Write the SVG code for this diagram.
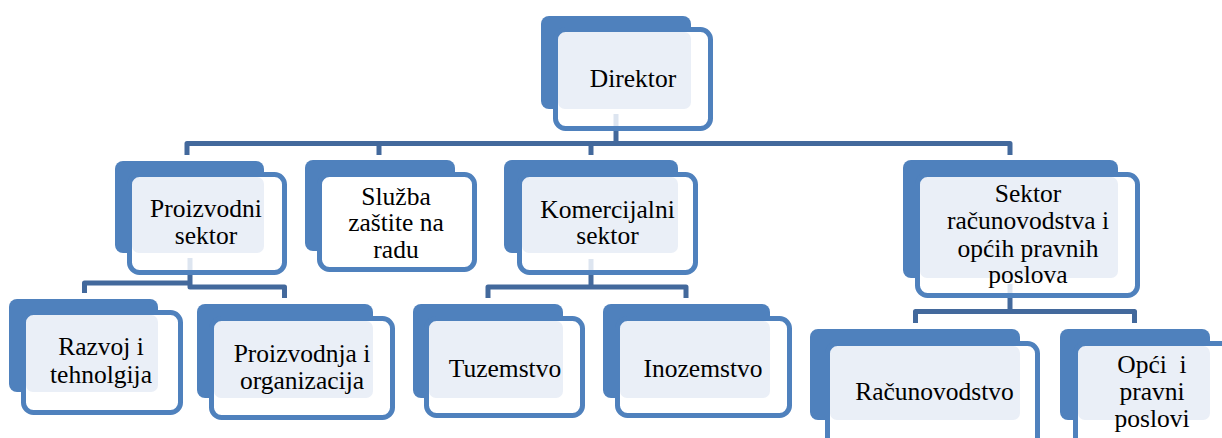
<svg xmlns="http://www.w3.org/2000/svg" width="1222" height="438" viewBox="0 0 1222 438">
<style>
.back{fill:#4F81BD}
.frontbg{fill:#FFFFFF}
.light{fill:#EAEFF7}
.front{fill:none;stroke:#4F81BD;stroke-width:5}
.conn{fill:none;stroke:#43699C;stroke-width:5;stroke-linejoin:round}
.stub{stroke:#DDE5F0;stroke-width:5}
.t{font-family:'Liberation Serif',serif;font-size:25.5px;fill:#000;text-anchor:middle}
</style>
<rect width="1222" height="438" fill="#FFFFFF"/>
<g id="connectors">
<path class="conn" d="M187,155 V143.5 H1010 V155"/>
<path class="conn" d="M616,131 V143.5"/>
<path class="conn" d="M379,143.5 V155"/>
<path class="conn" d="M591,143.5 V155"/>
<path class="conn" d="M190,275 V287 H284.5 V298"/>
<path class="conn" d="M190,283 H84.5 V293"/>
<path class="conn" d="M591,275 V287"/>
<path class="conn" d="M488,298 V287 H686 V298"/>
<path class="conn" d="M1010,298 V311.5"/>
<path class="conn" d="M915.5,323 V311.5 H1134.5 V323"/>
</g>
<g id="node-direktor">
<rect class="back" x="541" y="16" width="150" height="93" rx="8"/>
<rect class="frontbg" x="555.5" y="29.5" width="155" height="99" rx="10"/>
<rect class="light" x="558" y="32" width="133" height="77" rx="7"/>
<line class="stub" x1="616" y1="114" x2="616" y2="126"/>
<rect class="front" x="555.5" y="29.5" width="155" height="99" rx="10"/>
<text class="t" x="633" y="87">Direktor</text>
</g>
<g id="node-proizvodni">
<rect class="back" x="115" y="161" width="149" height="92" rx="8"/>
<rect class="frontbg" x="129.5" y="174.5" width="155" height="98" rx="10"/>
<rect class="light" x="132" y="177" width="132" height="76" rx="7"/>
<line class="stub" x1="190" y1="258" x2="190" y2="270"/>
<rect class="front" x="129.5" y="174.5" width="155" height="98" rx="10"/>
<text class="t" x="206" y="217">Proizvodni</text>
<text class="t" x="206" y="244">sektor</text>
</g>
<g id="node-sluzba">
<rect class="back" x="305" y="160" width="150" height="91" rx="8"/>
<rect class="frontbg" x="319.5" y="174.5" width="155" height="95" rx="10"/>
<rect class="front" x="319.5" y="174.5" width="155" height="95" rx="10"/>
<text class="t" x="396" y="205">Služba</text>
<text class="t" x="396" y="231">zaštite na</text>
<text class="t" x="396" y="258">radu</text>
</g>
<g id="node-komercijalni">
<rect class="back" x="504" y="160" width="174" height="93" rx="8"/>
<rect class="frontbg" x="519.5" y="174.5" width="176" height="98" rx="10"/>
<rect class="light" x="522" y="177" width="156" height="76" rx="7"/>
<line class="stub" x1="591" y1="259" x2="591" y2="270"/>
<rect class="front" x="519.5" y="174.5" width="176" height="98" rx="10"/>
<text class="t" x="607.5" y="218">Komercijalni</text>
<text class="t" x="607.5" y="244">sektor</text>
</g>
<g id="node-sektor">
<rect class="back" x="903" y="160" width="215" height="118" rx="8"/>
<rect class="frontbg" x="917.5" y="174.5" width="220" height="121" rx="10"/>
<rect class="light" x="920" y="177" width="198" height="101" rx="7"/>
<line class="stub" x1="1010" y1="284" x2="1010" y2="294"/>
<rect class="front" x="917.5" y="174.5" width="220" height="121" rx="10"/>
<text class="t" x="1028" y="202">Sektor</text>
<text class="t" x="1028" y="229">računovodstva i</text>
<text class="t" x="1028" y="257">općih pravnih</text>
<text class="t" x="1028" y="283">poslova</text>
</g>
<g id="node-razvoj">
<rect class="back" x="9" y="299" width="149" height="93" rx="8"/>
<rect class="frontbg" x="23.5" y="312.5" width="157" height="100" rx="10"/>
<rect class="light" x="26" y="315" width="132" height="77" rx="7"/>
<rect class="front" x="23.5" y="312.5" width="157" height="100" rx="10"/>
<text class="t" x="101" y="355">Razvoj i</text>
<text class="t" x="101" y="383">tehnolgija</text>
</g>
<g id="node-proizvodnja">
<rect class="back" x="197" y="304" width="176" height="94" rx="8"/>
<rect class="frontbg" x="211.5" y="318.5" width="181" height="99" rx="10"/>
<rect class="light" x="214" y="321" width="159" height="77" rx="7"/>
<rect class="front" x="211.5" y="318.5" width="181" height="99" rx="10"/>
<text class="t" x="302" y="362">Proizvodnja i</text>
<text class="t" x="302" y="389">organizacija</text>
</g>
<g id="node-tuzemstvo">
<rect class="back" x="413" y="304" width="150" height="94" rx="8"/>
<rect class="frontbg" x="426.5" y="318.5" width="156" height="97" rx="10"/>
<rect class="light" x="429" y="321" width="134" height="77" rx="7"/>
<rect class="front" x="426.5" y="318.5" width="156" height="97" rx="10"/>
<text class="t" x="505" y="377">Tuzemstvo</text>
</g>
<g id="node-inozemstvo">
<rect class="back" x="603" y="304" width="167" height="94" rx="8"/>
<rect class="frontbg" x="617.5" y="318.5" width="172" height="97" rx="10"/>
<rect class="light" x="620" y="321" width="150" height="77" rx="7"/>
<rect class="front" x="617.5" y="318.5" width="172" height="97" rx="10"/>
<text class="t" x="703" y="377">Inozemstvo</text>
</g>
<g id="node-racunovodstvo">
<rect class="back" x="810" y="329" width="210" height="91" rx="8"/>
<rect class="frontbg" x="827.5" y="343.5" width="210" height="104" rx="10"/>
<rect class="light" x="830" y="346" width="190" height="74" rx="7"/>
<rect class="front" x="827.5" y="343.5" width="210" height="104" rx="10"/>
<text class="t" x="934.5" y="400">Računovodstvo</text>
</g>
<g id="node-opci">
<rect class="back" x="1060" y="329" width="150" height="91" rx="8"/>
<rect class="frontbg" x="1075.5" y="343.5" width="160" height="104" rx="10"/>
<rect class="light" x="1078" y="346" width="132" height="74" rx="7"/>
<rect class="front" x="1075.5" y="343.5" width="160" height="104" rx="10"/>
<text class="t" x="1152" y="373" style="white-space:pre">Opći  i</text>
<text class="t" x="1152" y="400">pravni</text>
<text class="t" x="1152" y="427">poslovi</text>
</g>
</svg>
